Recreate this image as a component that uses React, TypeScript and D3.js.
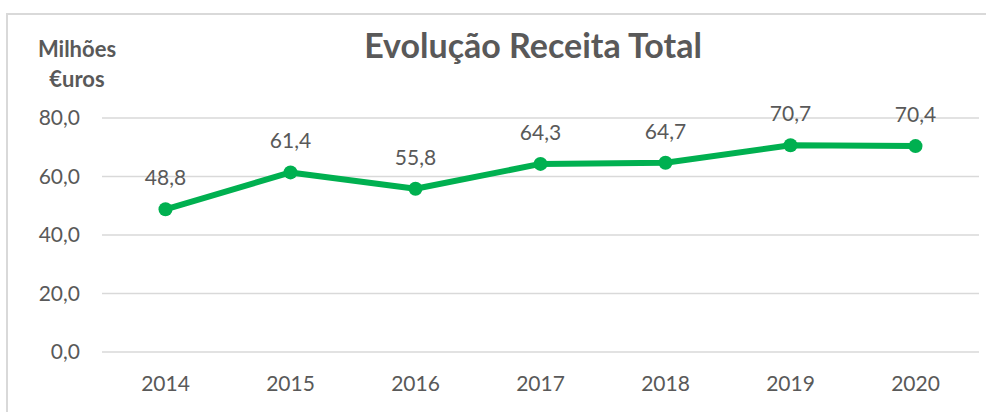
import React from "react";
import * as d3 from "d3";

const years = ["2014", "2015", "2016", "2017", "2018", "2019", "2020"];
const receita = [48.8, 61.4, 55.8, 64.3, 64.7, 70.7, 70.4];
const yTicks = [0, 20, 40, 60, 80];

const W = 986;
const H = 412;
const FONT = "Lato, 'Open Sans', sans-serif";
const TEXT = "#595959";
const GREEN = "#00B050";

export default function App() {
  const x = d3.scaleBand<string>().domain(years).range([103, 978]);
  const y = d3.scaleLinear().domain([0, 80]).range([352, 118]);
  const fmt = (v: number) => v.toFixed(1).replace(".", ",");
  const line = d3
    .line<number>()
    .x((_, i) => (x(years[i]) as number) + x.bandwidth() / 2)
    .y((d) => y(d));

  return (
    <svg
      width={W}
      height={H}
      style={{ position: "absolute", left: 0, top: 0, background: "#fff" }}
      fontFamily={FONT}
    >
      <rect x={7} y={14} width={W + 10} height={H + 10} fill="#fff" stroke="#d9d9d9" strokeWidth={2} />
      <text x={533} y={58} textAnchor="middle" fontSize={34} fontWeight="bold" fill={TEXT}>
        Evolução Receita Total
      </text>
      <text x={77} y={57} textAnchor="middle" fontSize={22} fontWeight="bold" fill={TEXT}>
        Milhões
      </text>
      <text x={77} y={87} textAnchor="middle" fontSize={22} fontWeight="bold" fill={TEXT}>
        €uros
      </text>
      {yTicks.map((t) => (
        <g key={t}>
          <line x1={102} x2={979} y1={y(t)} y2={y(t)} stroke="#d9d9d9" strokeWidth={1.5} />
          <text x={80} y={y(t)} dy="0.35em" textAnchor="end" fontSize={21} fill={TEXT}>
            {fmt(t)}
          </text>
        </g>
      ))}
      {years.map((yr) => (
        <text
          key={yr}
          x={(x(yr) as number) + x.bandwidth() / 2}
          y={391}
          textAnchor="middle"
          fontSize={21}
          fill={TEXT}
        >
          {yr}
        </text>
      ))}
      <path d={line(receita) || ""} fill="none" stroke={GREEN} strokeWidth={6} strokeLinejoin="round" />
      {receita.map((v, i) => {
        const cx = (x(years[i]) as number) + x.bandwidth() / 2;
        return (
          <g key={i}>
            <circle cx={cx} cy={y(v)} r={7} fill={GREEN} />
            <text x={cx} y={y(v) - 24} textAnchor="middle" fontSize={21} fill={TEXT}>
              {fmt(v)}
            </text>
          </g>
        );
      })}
    </svg>
  );
}
